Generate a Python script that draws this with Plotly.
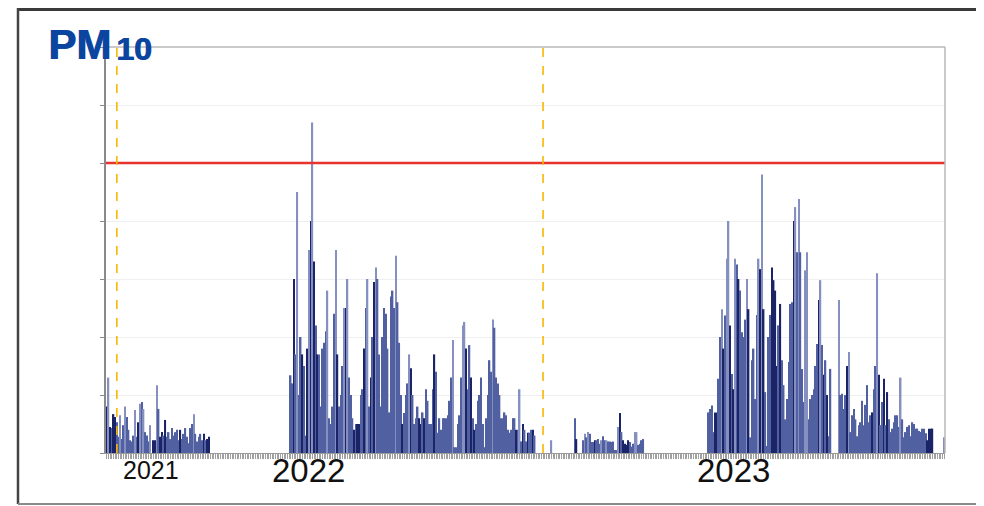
import plotly.graph_objects as go

# ---------------- data (PM10 daily values, µg/m³) ----------------
season_2021 = [8, 13, 4.5, 4.3, 6.7, 6.2, 5.3, 2.8, 6.5, 2.4, 4.8, 8, 6.2, 4, 2.2, 2, 3, 7.4, 2.8, 5.3,
               8.5, 8.8, 7.6, 3.6, 3, 2, 4.8, 0, 2.2, 2.2, 11.7, 7.6, 2.8, 3.6, 3, 5.7, 2.8, 3.6, 2.4, 4.3,
               3, 3.6, 4, 2.2, 4, 2.4, 3.3, 4.3, 2.8, 1.7, 4.3, 5, 6.7, 3.3, 2, 2.8, 3.3, 2.2, 3.3, 2.2,
               2.4, 2.8]
shade_2021 = "DLDMDDMMLMMLMMMMMLMDLMLMMMLMDDLMDDMDMMMMMMMMDMMMMMMMLMMMMMDMDD"

season_2022a = [13.4, 12, 30, 17, 45, 10, 20, 17, 15, 3, 18, 35, 40, 57, 33, 22, 17, 17, 8, 18,
                19, 21, 28, 6, 5, 8, 24, 35, 17, 8, 10, 15, 25, 25, 30, 13, 10, 6, 4, 5,
                5, 5, 10, 11, 18, 25, 30, 8, 13, 20, 29.5, 32, 30, 17, 8, 20, 25, 24, 18, 7,
                27, 28, 25, 34, 26, 19, 10, 5]
shade_2022a = ("MMDMLMMDMM" "DLDLDMDMMM" "MMLMMMMLDM" "MMLDLMMMDM"
               "DDMMDMLMDM" "DLMMMMMMMM" "MMMLMMMD")

season_2022b = [6.9, 10, 12, 17, 14.6, 10, 5, 6, 8, 6, 5, 7, 6, 11, 9, 5, 5, 11, 17, 14,
                3.5, 6, 4, 6, 6, 6, 6.5, 9, 13, 19.5, 1, 1, 5, 6.5, 13, 22, 22.6, 18, 11, 18.6,
                13, 6, 4, 5, 9, 10, 13, 5, 1, 6, 10, 16, 14, 23, 21.6, 13, 12, 10, 6, 6,
                7, 6.5, 4, 3.5, 4, 6, 6, 4, 4, 11, 2, 5, 4, 2, 3.5, 3.5, 4, 4, 3]
shade_2022b = ("MMMLDMMMMD" "DMDMMMMMDM" "MMMMMMMMML" "MMMMMLLDMM"
               "DMDMMMMMMM" "MMMLMMMMMM" "MMMMMMMDML" "MDMMDMMDM")

lone_value = [2.2]

summer_2023 = [6, 2.4, 0, 0, 0, 2.2, 3.3, 2.7, 3.6, 3.3, 1.9, 1.9, 2.2, 2.2, 2.4, 1.6, 2.2, 2.9, 2.2, 2.2,
               2, 2, 1.9, 2, 0.5, 0.5, 4.5, 6.9, 3.6, 2.2, 1.6, 1.4, 2.2, 1.9, 1.1, 1.6, 3.6, 3.6, 1.4, 1.6,
               2.2, 2.4]
shade_summer = "MDMMMMLMLMMMDMMMLMMLMMMMMMLDMDDDDMMMLLMMMM"

season_2023a = [7, 7.6, 8.2, 3.6, 7, 7, 12.8, 20, 24.8, 18, 23.7, 33.5, 40, 22, 13.6, 11, 33.5, 32.5, 30, 28,
                20.8, 20, 23, 30, 24.8, 2.7, 16, 18, 9.3, 23.8, 33.5, 31.7, 48, 24.8, 10.5, 1.2, 20, 23.8, 32, 29.8,
                28, 15, 22, 25.7, 16, 11.7, 5.8, 9.3, 15.7, 25.7, 26, 40, 42.4, 34.6, 43.8, 34.6, 14.5, 8.8, 31.5, 34.6,
                5.8, 9.3, 10, 11, 15, 18.8, 26.4, 29.8, 18.6, 13.5, 16, 10, 2.9, 14.5]
shade_2023a = ("MMMMDDMMLD" "MLLDMDLMDM" "MMMLDMMMMM" "LDLDMMMMDD"
               "DDMDMMMMMM" "MDLMLMMMLL" "MMMMMMDLMD" "MDMM")

season_2023b = [26.4, 10, 10.2, 7.6, 10, 15, 17.4, 3.6, 6.5, 7.6, 5.8, 2.9, 4.8, 5.3, 9, 4.8, 8.3, 11.7, 5.3, 6.5,
                7, 11, 15, 31, 13.5, 4.8, 8.8, 12.8, 4.8, 10.5, 5.8, 3.6, 4.2, 5.3, 6.5, 6.5, 4.5, 13, 5.8, 2.7,
                3.6, 4.5, 4.8, 2.9, 5.3, 5, 4.2, 4.2, 3.8, 3.6, 4.2, 4.2, 3.4, 2.2, 4.2, 4.2, 4.2]
shade_2023b = ("LMMMMDLMMM" "MMMMMMMMMM" "DMMLDMMDMD" "MMMMMMMLMM"
               "MMMMMMMMMM" "MMMDDDD")

last_value = [2.7]

# days without data between the blocks
gap_days = [48, 9, 13, 38, 4, 6]

limit_value = 50            # daily limit value (red line)
year_marks = [6, 261]       # sample index of the turn of the year (orange dashed lines)
year_labels = ["2021", "2022", "2023"]
year_label_idx = [26.4, 120.5, 375]
year_label_size = [25, 33, 33]

# ---------------- build the series ----------------
values, shades = [], []


def add(vals, sh):
    sh = (sh + "M" * len(vals))[:len(vals)]
    values.extend(vals)
    shades.extend(list(sh))


def gap(n):
    values.extend([None] * n)
    shades.extend(["M"] * n)


add(season_2021, shade_2021)
gap(gap_days[0])
add(season_2022a, shade_2022a)
add(season_2022b, shade_2022b)
gap(gap_days[1])
add(lone_value, "L")
gap(gap_days[2])
add(summer_2023, shade_summer)
gap(gap_days[3])
add(season_2023a, shade_2023a)
gap(gap_days[4])
add(season_2023b, shade_2023b)
gap(gap_days[5])
add(last_value, "L")

N = len(values)
xs = list(range(N))
palette = {"L": "#8590c0", "M": "#5060a0", "D": "#1a2466"}
colors = [palette[s] for s in shades]

# ---------------- figure ----------------
# page coordinates of the 984x506 window; the page body has an 8px margin
PAGE_W, PAGE_H = 984, 506
OFF = 8
W, H = PAGE_W - 2 * OFF, PAGE_H - OFF
PL, PR, PT, PB = 106, 945, 47, 453   # plot area in page pixels


def px_x(x):
    return (x - PL) / (PR - PL)


def px_y(y):
    return (PB - y) / (PB - PT)


fig = go.Figure()
fig.add_trace(go.Bar(x=xs, y=values, marker=dict(color=colors, line=dict(width=0)),
                     hoverinfo="skip", showlegend=False))

shapes = []
# limit line
shapes.append(dict(type="line", xref="paper", yref="y", x0=0, x1=1, y0=limit_value, y1=limit_value,
                   line=dict(color="#e8322c", width=2.5), layer="above"))
# year dashed markers
for m in year_marks:
    shapes.append(dict(type="line", xref="x", yref="paper", x0=m, x1=m, y0=0, y1=1,
                       line=dict(color="#f7b800", width=1.6, dash="dash"), layer="above"))
# plot frame (top and right)
shapes.append(dict(type="line", xref="paper", yref="paper", x0=0, x1=1, y0=1, y1=1,
                   line=dict(color="#b8b8b8", width=1.5)))
shapes.append(dict(type="line", xref="paper", yref="paper", x0=1, x1=1, y0=0, y1=1,
                   line=dict(color="#b8b8b8", width=1.5)))
# outer picture frame
shapes.append(dict(type="line", xref="paper", yref="paper", x0=px_x(18), x1=px_x(PAGE_W + 5),
                   y0=px_y(OFF + 1.5), y1=px_y(OFF + 1.5), line=dict(color="#3a3a3a", width=3)))
shapes.append(dict(type="line", xref="paper", yref="paper", x0=px_x(18), x1=px_x(18),
                   y0=px_y(OFF), y1=px_y(504), line=dict(color="#444444", width=2.5)))
shapes.append(dict(type="line", xref="paper", yref="paper", x0=px_x(18), x1=px_x(PAGE_W + 5),
                   y0=px_y(504), y1=px_y(504), line=dict(color="#8a8a8a", width=2)))

annotations = []
annotations.append(dict(text="<b>PM</b>", xref="paper", yref="paper", x=px_x(46), y=px_y(45),
                        xanchor="left", yanchor="middle", showarrow=False,
                        font=dict(family="Liberation Sans", size=42, color="#0b45a0",
                                  shadow="1px 0px 0px #0b45a0")))
annotations.append(dict(text="<b>10</b>", xref="paper", yref="paper", x=px_x(114), y=px_y(49),
                        xanchor="left", yanchor="middle", showarrow=False,
                        font=dict(family="Liberation Sans", size=32, color="#0b45a0",
                                  shadow="1px 0px 0px #0b45a0")))
for lab, xi, fs in zip(year_labels, year_label_idx, year_label_size):
    annotations.append(dict(text=lab, xref="x", yref="paper", x=xi, y=px_y(470),
                            xanchor="center", yanchor="middle", showarrow=False,
                            font=dict(family="Liberation Sans", size=fs, color="#111111")))

fig.update_layout(
    width=W, height=H,
    margin=dict(l=PL - OFF, r=(OFF + W) - PR, t=PT - OFF, b=(OFF + H) - PB, pad=0),
    paper_bgcolor="white", plot_bgcolor="white",
    bargap=0.12,
    shapes=shapes, annotations=annotations,
    xaxis=dict(range=[-0.5, N - 0.5], showgrid=False, zeroline=False,
               showline=True, linecolor="#9a9a9a", linewidth=1,
               ticks="outside", tick0=0, dtick=1, ticklen=5, tickwidth=0.8, tickcolor="#a0a0a0",
               showticklabels=False),
    yaxis=dict(range=[0, 70], dtick=10, showgrid=True, gridcolor="#efefef", gridwidth=1,
               zeroline=False, showline=True, linecolor="#8a8a8a", linewidth=1.5,
               ticks="outside", ticklen=4, tickcolor="#8a8a8a", showticklabels=False),
)

fig.write_html("out.html")
